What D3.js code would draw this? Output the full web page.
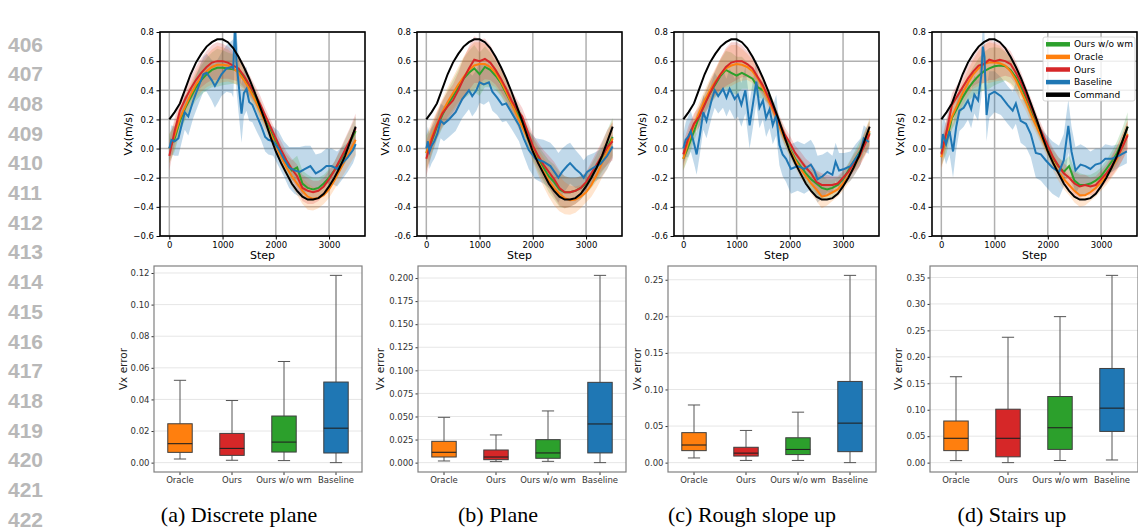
<!DOCTYPE html>
<html>
<head>
<meta charset="utf-8">
<script src="https://cdn.jsdelivr.net/npm/d3@7"></script>
<style>
  body { margin: 0; background: #fff; }
  text { font-family: "DejaVu Sans", sans-serif; }
</style>
</head>
<body>
<svg id="fig" width="1138" height="529"></svg>
<script>
// ---- data: velocity tracking, sampled every 100 steps ----
const steps = [0,100,200,300,400,500,600,700,800,900,1000,1100,1200,1300,1400,1500,1600,1700,
  1800,1900,2000,2100,2200,2300,2400,2500,2600,2700,2800,2900,3000,3100,3200,3300,3400,3500];

// command is the same in every panel
const command = [0.20,0.25,0.31,0.41,0.51,0.59,0.65,0.70,0.73,0.75,0.75,0.73,0.69,0.63,0.56,0.48,0.39,0.29,
  0.19,0.08,-0.02,-0.10,-0.17,-0.24,-0.29,-0.33,-0.35,-0.35,-0.34,-0.31,-0.26,-0.20,-0.13,-0.05,0.05,0.15];

// (a) discrete plane
const oursA   = [-0.05,0.12,0.26,0.34,0.41,0.47,0.52,0.56,0.59,0.60,0.60,0.59,0.57,0.55,0.50,0.44,0.38,0.31,
  0.23,0.15,0.07,-0.01,-0.08,-0.14,-0.19,-0.27,-0.29,-0.30,-0.29,-0.26,-0.21,-0.15,-0.08,-0.01,0.06,0.14];
const oracleA = [0.00,0.09,0.21,0.29,0.37,0.44,0.49,0.53,0.56,0.575,0.575,0.57,0.55,0.52,0.47,0.41,0.34,0.26,
  0.18,0.10,0.02,-0.06,-0.13,-0.19,-0.24,-0.29,-0.33,-0.345,-0.34,-0.32,-0.28,-0.22,-0.15,-0.08,-0.01,0.06];
const wmA     = [0.00,0.07,0.19,0.28,0.35,0.42,0.47,0.51,0.54,0.555,0.555,0.55,0.545,0.53,0.49,0.43,0.36,0.28,
  0.20,0.12,0.04,-0.04,-0.10,-0.15,-0.13,-0.24,-0.27,-0.28,-0.27,-0.24,-0.20,-0.15,-0.09,-0.02,0.05,0.12];
const spreadA = [0.10,0.09,0.08,0.08,0.08,0.09,0.10,0.11,0.12,0.13,0.12,0.11,0.10,0.09,0.08,0.07,0.06,0.06,
  0.05,0.05,0.05,0.06,0.06,0.07,0.08,0.09,0.09,0.08,0.07,0.06,0.06,0.06,0.07,0.08,0.09,0.10];
// baseline: [step, smoothed value, raw spread]
const baselineA = [[0,0.00,0.08],[40,0.06,0.10],[100,0.05,0.10],[170,0.07,0.12],[230,0.16,0.12],[290,0.25,0.12],
  [356,0.22,0.13],[450,0.33,0.12],[575,0.45,0.12],[640,0.51,0.12],[700,0.52,0.13],[795,0.47,0.14],[856,0.43,0.15],
  [920,0.47,0.15],[980,0.51,0.15],[1075,0.55,0.16],[1170,0.56,0.18],[1200,0.55,0.20],[1235,0.85,0.20],[1260,0.60,0.20],
  [1300,0.45,0.20],[1356,0.24,0.20],[1400,0.38,0.16],[1450,0.41,0.15],[1500,0.32,0.13],[1560,0.30,0.12],
  [1650,0.22,0.11],[1720,0.16,0.10],[1800,0.08,0.10],[1860,0.06,0.10],[1950,0.05,0.10],[2050,0.00,0.12],
  [2150,-0.07,0.12],[2250,-0.13,0.14],[2350,-0.15,0.16],[2450,-0.16,0.17],[2550,-0.14,0.16],[2650,-0.12,0.14],
  [2750,-0.17,0.13],[2850,-0.15,0.12],[2950,-0.12,0.12],[3050,-0.12,0.12],[3150,-0.14,0.12],[3250,-0.10,0.11],
  [3350,-0.06,0.10],[3450,-0.01,0.09],[3500,0.03,0.08]];

// (b) plane
const oursB   = [-0.07,0.06,0.16,0.24,0.29,0.33,0.40,0.48,0.55,0.61,0.60,0.615,0.59,0.54,0.48,0.41,0.33,0.27,
  0.22,0.12,0.02,-0.05,-0.11,-0.16,-0.21,-0.27,-0.30,-0.30,-0.29,-0.27,-0.23,-0.17,-0.11,-0.05,0.01,0.05];
const oracleB = [-0.03,0.08,0.17,0.25,0.32,0.38,0.44,0.49,0.54,0.57,0.58,0.58,0.56,0.52,0.46,0.39,0.31,0.23,
  0.15,0.07,-0.01,-0.09,-0.16,-0.22,-0.27,-0.31,-0.34,-0.355,-0.35,-0.33,-0.30,-0.25,-0.18,-0.10,-0.02,0.07];
const wmB     = [-0.03,0.05,0.15,0.23,0.30,0.36,0.42,0.48,0.52,0.55,0.51,0.56,0.54,0.50,0.45,0.38,0.31,0.25,
  0.18,0.09,0.00,-0.07,-0.13,-0.19,-0.23,-0.28,-0.30,-0.30,-0.29,-0.27,-0.24,-0.19,-0.13,-0.06,0.01,0.08];
const spreadB = [0.12,0.10,0.09,0.09,0.10,0.11,0.12,0.14,0.15,0.16,0.15,0.14,0.12,0.10,0.09,0.08,0.07,0.07,
  0.06,0.07,0.08,0.09,0.10,0.11,0.12,0.12,0.11,0.10,0.09,0.08,0.07,0.08,0.09,0.10,0.12,0.13];
const baselineB = [[0,0.00,0.10],[30,0.05,0.10],[60,-0.02,0.12],[100,0.02,0.12],[150,0.05,0.12],[206,0.10,0.12],
  [270,0.19,0.12],[330,0.17,0.12],[425,0.20,0.12],[550,0.25,0.13],[675,0.34,0.13],[800,0.40,0.13],[862,0.36,0.14],
  [940,0.40,0.14],[1000,0.455,0.14],[1080,0.44,0.14],[1175,0.455,0.13],[1240,0.39,0.13],[1330,0.35,0.12],
  [1425,0.30,0.12],[1500,0.31,0.12],[1610,0.24,0.11],[1740,0.16,0.11],[1830,0.07,0.12],[1925,-0.01,0.13],
  [2050,-0.07,0.14],[2200,-0.09,0.15],[2330,-0.12,0.16],[2425,-0.17,0.17],[2480,-0.20,0.17],[2550,-0.16,0.16],
  [2645,-0.12,0.15],[2700,-0.10,0.14],[2800,-0.14,0.13],[2895,-0.17,0.12],[2955,-0.20,0.12],[3020,-0.16,0.11],
  [3145,-0.13,0.10],[3270,-0.105,0.10],[3395,-0.05,0.09],[3500,0.015,0.08]];

// (c) rough slope up
const oursC   = [-0.04,0.08,0.17,0.22,0.30,0.38,0.45,0.51,0.56,0.59,0.60,0.60,0.58,0.55,0.49,0.43,0.35,0.27,
  0.18,0.10,0.04,-0.03,-0.08,-0.13,-0.17,-0.23,-0.25,-0.25,-0.25,-0.24,-0.20,-0.16,-0.10,-0.06,0.02,0.10];
const oracleC = [-0.07,0.05,0.16,0.25,0.33,0.40,0.46,0.51,0.55,0.57,0.58,0.575,0.56,0.53,0.48,0.41,0.33,0.25,
  0.16,0.07,-0.01,-0.08,-0.14,-0.19,-0.24,-0.28,-0.33,-0.32,-0.30,-0.28,-0.24,-0.19,-0.13,-0.06,0.03,0.12];
const wmC     = [-0.07,0.02,0.12,0.22,0.31,0.38,0.44,0.50,0.54,0.52,0.50,0.52,0.50,0.48,0.42,0.40,0.36,0.27,
  0.17,0.08,0.00,-0.07,-0.12,-0.17,-0.21,-0.24,-0.27,-0.28,-0.27,-0.25,-0.21,-0.15,-0.09,-0.03,0.03,0.11];
const spreadC = [0.08,0.08,0.07,0.07,0.07,0.08,0.09,0.11,0.13,0.14,0.13,0.11,0.09,0.08,0.07,0.06,0.05,0.05,
  0.05,0.05,0.05,0.05,0.06,0.06,0.07,0.08,0.08,0.07,0.06,0.05,0.05,0.05,0.06,0.07,0.08,0.09];
const baselineC = [[0,0.00,0.10],[45,0.06,0.12],[90,0.08,0.14],[140,0.12,0.14],[205,0.03,0.14],[250,-0.04,0.14],
  [310,0.09,0.13],[375,0.25,0.12],[435,0.19,0.12],[530,0.33,0.12],[590,0.40,0.12],[655,0.36,0.12],[745,0.41,0.13],
  [810,0.35,0.13],[870,0.41,0.14],[965,0.34,0.14],[1025,0.37,0.15],[1090,0.30,0.15],[1165,0.40,0.16],
  [1245,0.16,0.16],[1305,0.30,0.16],[1370,0.46,0.15],[1430,0.28,0.14],[1495,0.33,0.13],[1555,0.21,0.13],
  [1620,0.27,0.13],[1680,0.16,0.13],[1745,0.23,0.14],[1805,0.025,0.14],[1865,-0.04,0.15],[1930,-0.07,0.16],
  [2020,-0.14,0.17],[2145,-0.12,0.17],[2270,-0.14,0.17],[2395,-0.11,0.17],[2460,-0.15,0.17],[2520,-0.21,0.16],
  [2615,-0.19,0.15],[2705,-0.16,0.14],[2800,-0.18,0.13],[2860,-0.09,0.13],[2925,-0.15,0.12],[3020,-0.14,0.11],
  [3140,-0.12,0.10],[3235,-0.07,0.10],[3330,-0.02,0.09],[3390,0.07,0.09],[3485,0.045,0.08]];

// (d) stairs up
const oursD   = [-0.04,0.12,0.30,0.36,0.42,0.48,0.53,0.57,0.58,0.61,0.60,0.61,0.60,0.58,0.52,0.45,0.36,0.27,
  0.18,0.10,0.02,-0.06,-0.12,-0.17,-0.20,-0.24,-0.26,-0.25,-0.26,-0.25,-0.21,-0.17,-0.12,-0.06,0.01,0.09];
const oracleD = [-0.06,0.10,0.22,0.30,0.38,0.45,0.51,0.55,0.58,0.59,0.59,0.585,0.57,0.53,0.47,0.39,0.31,0.22,
  0.14,0.06,-0.02,-0.09,-0.16,-0.21,-0.25,-0.29,-0.32,-0.32,-0.30,-0.27,-0.23,-0.19,-0.13,-0.07,0.01,0.10];
const wmD     = [-0.03,0.06,0.21,0.28,0.35,0.41,0.46,0.50,0.53,0.55,0.565,0.57,0.565,0.54,0.49,0.42,0.34,0.25,
  0.16,0.08,0.00,-0.07,-0.12,-0.16,-0.12,-0.22,-0.25,-0.25,-0.24,-0.22,-0.19,-0.14,-0.09,-0.03,0.05,0.15];
const spreadD = [0.09,0.09,0.08,0.08,0.08,0.09,0.10,0.12,0.13,0.14,0.13,0.12,0.10,0.09,0.08,0.07,0.06,0.06,
  0.05,0.05,0.05,0.06,0.06,0.07,0.07,0.08,0.08,0.07,0.06,0.06,0.06,0.06,0.07,0.08,0.09,0.10];
const baselineD = [[0,0.00,0.10],[30,0.10,0.12],[90,0.03,0.14],[155,0.12,0.16],[220,-0.02,0.18],[280,0.15,0.16],
  [340,0.26,0.14],[420,0.28,0.13],[500,0.33,0.13],[560,0.27,0.13],[620,0.37,0.13],[690,0.33,0.14],[750,0.50,0.15],
  [780,0.70,0.16],[810,0.63,0.16],[850,0.23,0.18],[900,0.37,0.16],[1000,0.39,0.14],[1120,0.36,0.13],
  [1245,0.30,0.13],[1340,0.26,0.13],[1400,0.31,0.14],[1490,0.19,0.15],[1590,0.17,0.16],[1680,0.10,0.16],
  [1775,-0.03,0.17],[1870,-0.04,0.18],[1960,-0.08,0.18],[2085,-0.13,0.18],[2210,-0.16,0.18],[2300,-0.08,0.18],
  [2385,0.155,0.18],[2445,-0.02,0.17],[2520,-0.15,0.16],[2615,-0.11,0.14],[2705,-0.12,0.13],[2800,-0.14,0.12],
  [2895,-0.11,0.11],[2990,-0.10,0.10],[3080,-0.07,0.10],[3205,-0.07,0.09],[3330,-0.05,0.08],[3485,-0.02,0.08]];

// ---- box plots of Vx error: [low whisker, q1, median, q3, high whisker] ----
const methods = ['Oracle', 'Ours', 'Ours w/o wm', 'Baseline'];
const boxA = [[0.0023,0.0065,0.012,0.0246,0.0521],[0.0015,0.0046,0.009,0.0185,0.0393],
              [0.0013,0.0067,0.013,0.0295,0.064],[0.0,0.0061,0.0218,0.051,0.1185]];
const boxB = [[0.0018,0.0061,0.0112,0.0231,0.0491],[0.0011,0.0032,0.0061,0.0137,0.030],
              [0.0014,0.0047,0.0105,0.0249,0.056],[0.0,0.0105,0.0419,0.087,0.2029]];
const boxC = [[0.0064,0.0164,0.0241,0.041,0.0788],[0.003,0.009,0.013,0.021,0.044],
              [0.003,0.011,0.018,0.034,0.069],[0.0,0.015,0.054,0.111,0.256]];
const boxD = [[0.0038,0.0227,0.046,0.0787,0.1624],[0.0,0.011,0.046,0.101,0.237],
              [0.004,0.025,0.066,0.125,0.276],[0.005,0.059,0.103,0.178,0.354]];

const boxTicksA = [0, 0.02, 0.04, 0.06, 0.08, 0.10, 0.12];
const boxTicksB = [0, 0.025, 0.05, 0.075, 0.1, 0.125, 0.15, 0.175, 0.2];
const boxTicksC = [0, 0.05, 0.10, 0.15, 0.20, 0.25];
const boxTicksD = [0, 0.05, 0.10, 0.15, 0.20, 0.25, 0.30, 0.35];

const stepTicks = [0, 1000, 2000, 3000];
const vxTicks = [-0.6, -0.4, -0.2, 0.0, 0.2, 0.4, 0.6, 0.8];
const captions = ['(a) Discrete plane', '(b) Plane', '(c) Rough slope up', '(d) Stairs up'];
const legendNames = ['Ours w/o wm', 'Oracle', 'Ours', 'Baseline', 'Command'];
const lineNumbers = d3.range(406, 423);

const panels = [
  {ours: oursA, oracle: oracleA, wm: wmA, spread: spreadA, base: baselineA, box: boxA, ticks: boxTicksA, fmt: '.2f', minus: '\u2212'},
  {ours: oursB, oracle: oracleB, wm: wmB, spread: spreadB, base: baselineB, box: boxB, ticks: boxTicksB, fmt: '.3f', minus: '-'},
  {ours: oursC, oracle: oracleC, wm: wmC, spread: spreadC, base: baselineC, box: boxC, ticks: boxTicksC, fmt: '.2f', minus: '-'},
  {ours: oursD, oracle: oracleD, wm: wmD, spread: spreadD, base: baselineD, box: boxD, ticks: boxTicksD, fmt: '.2f', minus: '-'}
];

// ---- layout ----
const C = {wm: '#2ca02c', oracle: '#ff7f0e', ours: '#d62728', base: '#1f77b4', cmd: '#000000'};
const boxColors = [C.oracle, C.ours, C.wm, C.base];
const legendColors = [C.wm, C.oracle, C.ours, C.base, C.cmd];
const topLeft = [160, 417, 674, 932], topW = 205, topT = 32, topB = 236;
const boxLeft = [154, 418, 668, 930], boxW = 208, boxT = 266, boxB_ = 472;
const yLabOff = [31, 38, 31, 32];
const capX = [239, 498, 752, 1012];

const svg = d3.select('#fig');

// line numbers at the left margin
svg.append('g').selectAll('text').data(lineNumbers).join('text')
  .attr('x', 8).attr('y', (d, i) => 44 + i * 29.7).attr('dy', '0.36em')
  .style('font-family', '"Liberation Sans", Arial, sans-serif')
  .attr('font-weight', 'bold').attr('font-size', 21).attr('fill', '#b8b8b8')
  .text(d => d);

function drawTop(p, L, i) {
  const x = d3.scaleLinear().domain([-175, 3675]).range([L, L + topW]);
  const y = d3.scaleLinear().domain([-0.6, 0.8]).range([topB, topT]);
  const g = svg.append('g');
  const cid = 'clip' + i;
  g.append('clipPath').attr('id', cid).append('rect')
    .attr('x', L).attr('y', topT).attr('width', topW).attr('height', topB - topT);

  // grid
  g.append('g').selectAll('line').data(stepTicks).join('line')
    .attr('x1', d => x(d)).attr('x2', d => x(d)).attr('y1', topT).attr('y2', topB)
    .attr('stroke', '#b0b0b0').attr('stroke-width', 1.5);
  g.append('g').selectAll('line').data(vxTicks).join('line')
    .attr('y1', d => y(d)).attr('y2', d => y(d)).attr('x1', L).attr('x2', L + topW)
    .attr('stroke', '#b0b0b0').attr('stroke-width', 1.5);

  const plot = g.append('g').attr('clip-path', `url(#${cid})`);

  // raw (noisy) traces as light bands
  const baseArea = d3.area().x(d => x(d[0])).y0(d => y(d[1] - d[2])).y1(d => y(d[1] + d[2]));
  plot.append('path').datum(p.base).attr('d', baseArea)
    .attr('fill', C.base).attr('fill-opacity', 0.28);
  const band = d3.area().x((d, k) => x(steps[k]))
    .y0((d, k) => y(d - p.spread[k])).y1((d, k) => y(d + p.spread[k]));
  ['wm', 'oracle', 'ours'].forEach(k => {
    plot.append('path').datum(p[k]).attr('d', band)
      .attr('fill', C[k]).attr('fill-opacity', 0.2);
  });

  // smoothed lines
  const line = d3.line().x((d, k) => x(steps[k])).y(d => y(d));
  ['wm', 'oracle', 'ours'].forEach(k => {
    plot.append('path').datum(p[k]).attr('d', line)
      .attr('fill', 'none').attr('stroke', C[k]).attr('stroke-width', 2);
  });
  const baseLine = d3.line().x(d => x(d[0])).y(d => y(d[1]));
  plot.append('path').datum(p.base).attr('d', baseLine)
    .attr('fill', 'none').attr('stroke', C.base).attr('stroke-width', 2);
  plot.append('path').datum(command).attr('d', line)
    .attr('fill', 'none').attr('stroke', C.cmd).attr('stroke-width', 2);

  // axes
  const fmt = d => (d < 0 ? p.minus : '') + d3.format('.1f')(Math.abs(d));
  const ya = g.append('g').attr('transform', `translate(${L},0)`)
    .call(d3.axisLeft(y).tickValues(vxTicks).tickSize(3.5).tickPadding(2.5).tickFormat(fmt));
  const xa = g.append('g').attr('transform', `translate(0,${topB})`)
    .call(d3.axisBottom(x).tickValues(stepTicks).tickSize(3.5).tickPadding(2).tickFormat(d3.format('d')));
  [ya, xa].forEach(a => {
    a.select('.domain').remove();
    a.attr('font-size', 8.5).attr('font-family', '"DejaVu Sans", sans-serif').attr('color', '#000');
  });

  g.append('rect').attr('x', L).attr('y', topT).attr('width', topW).attr('height', topB - topT)
    .attr('fill', 'none').attr('stroke', '#000').attr('stroke-width', 1.6);

  g.append('text').attr('transform', `translate(${L - 32},${(topT + topB) / 2}) rotate(-90)`)
    .attr('text-anchor', 'middle').attr('dy', '0.35em').attr('font-size', 11).text('Vx(m/s)');
  g.append('text').attr('x', L + topW / 2).attr('y', 259)
    .attr('text-anchor', 'middle').attr('font-size', 11).text('Step');
}

function drawBox(p, L, off) {
  const x = d3.scaleBand().domain(methods).range([L, L + boxW]);
  const all = p.box.flat();
  const lo = d3.min(all), hi = d3.max(all), pad = (hi - lo) * 0.05;
  const y = d3.scaleLinear().domain([lo - pad, hi + pad]).range([boxB_, boxT]);
  const g = svg.append('g');

  g.append('g').selectAll('line').data(p.ticks).join('line')
    .attr('x1', L).attr('x2', L + boxW).attr('y1', d => y(d)).attr('y2', d => y(d))
    .attr('stroke', '#e6e6e6').attr('stroke-width', 1);

  const ya = g.append('g').attr('transform', `translate(${L},0)`)
    .call(d3.axisLeft(y).tickValues(p.ticks).tickSize(2.5).tickPadding(2).tickFormat(d3.format(p.fmt)));
  const xa = g.append('g').attr('transform', `translate(0,${boxB_})`)
    .call(d3.axisBottom(x).tickSize(3).tickPadding(2));
  [ya, xa].forEach(a => {
    a.select('.domain').remove();
    a.attr('font-size', 8.5).attr('font-family', '"DejaVu Sans", sans-serif').attr('color', '#333');
  });

  const bw = x.bandwidth() * 0.47;
  const items = g.append('g').selectAll('g').data(p.box).join('g')
    .attr('transform', (d, k) => `translate(${x(methods[k]) + x.bandwidth() / 2},0)`);
  items.append('line').attr('x1', 0).attr('x2', 0).attr('y1', d => y(d[3])).attr('y2', d => y(d[4]))
    .attr('stroke', '#555').attr('stroke-width', 1);
  items.append('line').attr('x1', 0).attr('x2', 0).attr('y1', d => y(d[0])).attr('y2', d => y(d[1]))
    .attr('stroke', '#555').attr('stroke-width', 1);
  items.append('line').attr('x1', -bw / 4).attr('x2', bw / 4).attr('y1', d => y(d[4])).attr('y2', d => y(d[4]))
    .attr('stroke', '#555').attr('stroke-width', 1);
  items.append('line').attr('x1', -bw / 4).attr('x2', bw / 4).attr('y1', d => y(d[0])).attr('y2', d => y(d[0]))
    .attr('stroke', '#555').attr('stroke-width', 1);
  items.append('rect').attr('x', -bw / 2).attr('width', bw)
    .attr('y', d => y(d[3])).attr('height', d => y(d[1]) - y(d[3]))
    .attr('fill', (d, k) => boxColors[k]).attr('stroke', '#3f3f3f').attr('stroke-width', 1);
  items.append('line').attr('x1', -bw / 2).attr('x2', bw / 2).attr('y1', d => y(d[2])).attr('y2', d => y(d[2]))
    .attr('stroke', '#222').attr('stroke-width', 1.1);

  g.append('rect').attr('x', L).attr('y', boxT).attr('width', boxW).attr('height', boxB_ - boxT)
    .attr('fill', 'none').attr('stroke', '#808080').attr('stroke-width', 1.2);

  g.append('text').attr('transform', `translate(${L - off},${(boxT + boxB_) / 2}) rotate(-90)`)
    .attr('text-anchor', 'middle').attr('dy', '0.35em').attr('font-size', 10.5).attr('fill', '#222')
    .text('Vx error');
}

panels.forEach((p, i) => {
  drawTop(p, topLeft[i], i);
  drawBox(p, boxLeft[i], yLabOff[i]);
  svg.append('text').attr('x', capX[i]).attr('y', 522).attr('text-anchor', 'middle')
    .style('font-family', '"Liberation Serif", "Times New Roman", serif')
    .attr('font-size', 22).attr('fill', '#000').text(captions[i]);
});

// legend inside panel (d)
const lg = svg.append('g').attr('transform', 'translate(1043,37)');
lg.append('rect').attr('width', 92).attr('height', 64).attr('rx', 2)
  .attr('fill', '#fff').attr('fill-opacity', 0.8).attr('stroke', '#cccccc').attr('stroke-width', 0.8);
const rows = lg.selectAll('g').data(legendNames).join('g')
  .attr('transform', (d, i) => `translate(0,${7.3 + i * 12.6})`);
rows.append('line').attr('x1', 3).attr('x2', 27).attr('y1', 0).attr('y2', 0)
  .attr('stroke', (d, i) => legendColors[i]).attr('stroke-width', 4.5);
rows.append('text').attr('x', 31).attr('dy', '0.35em').attr('font-size', 9).attr('fill', '#000').text(d => d);
</script>
</body>
</html>
